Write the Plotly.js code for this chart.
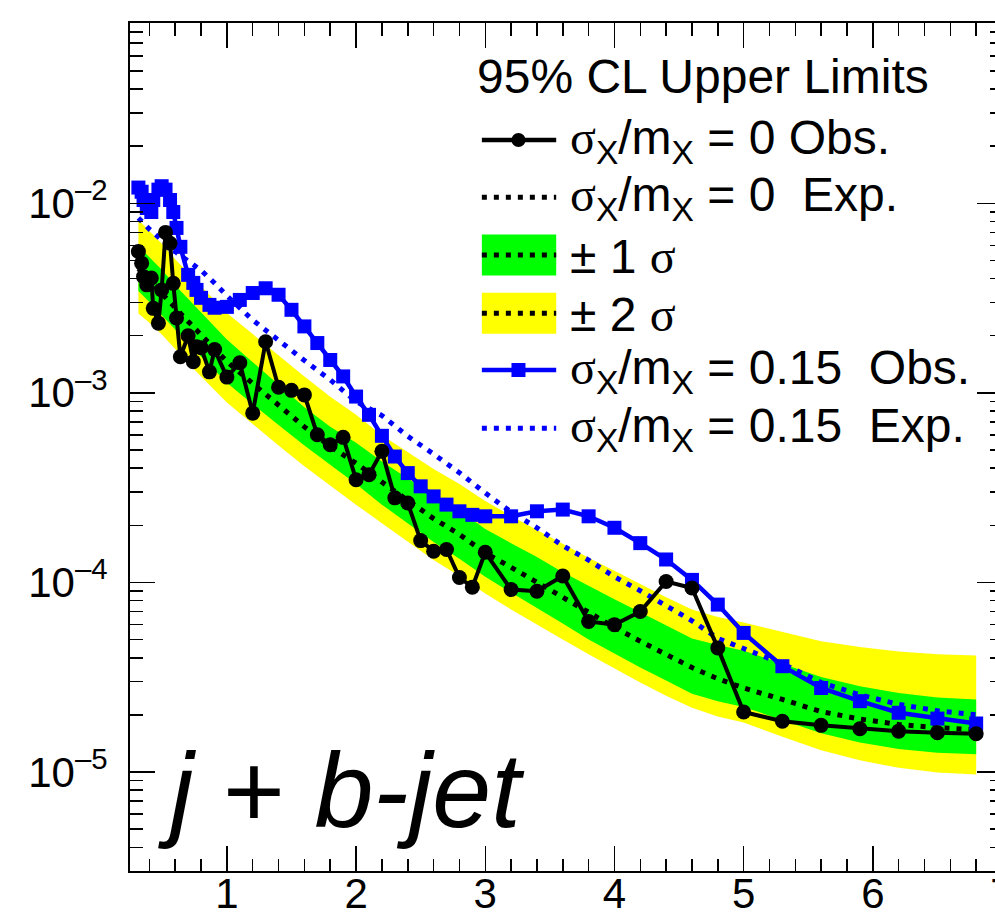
<!DOCTYPE html>
<html><head><meta charset="utf-8">
<script src="https://cdn.plot.ly/plotly-3.0.1.min.js"></script>
<style>html,body{margin:0;padding:0;overflow:hidden;background:#fff}</style>
</head><body><div id="chart" style="width:1020px;height:915px"></div>
<script>
// ---- data ----
const massObs = [0.315,0.34,0.355,0.38,0.415,0.43,0.47,0.495,0.525,0.56,0.585,0.61,0.64,0.70,0.74,0.765,0.80,0.865,0.905,1.0,
  1.1,1.2,1.3,1.4,1.5,1.6,1.7,1.8,1.9,2.0,2.1,2.2,2.3,2.4,2.5,2.6,2.7,2.8,2.9,3.0,
  3.2,3.4,3.6,3.8,4.0,4.2,4.4,4.6,4.8,5.0,
  5.3,5.6,5.9,6.2,6.5,6.8];
const obsWidth0 = [5.56e-3,4.83e-3,4.10e-3,3.71e-3,4.03e-3,2.79e-3,2.33e-3,3.49e-3,7.02e-3,6.15e-3,3.78e-3,2.48e-3,1.55e-3,2.00e-3,1.46e-3,1.75e-3,1.73e-3,1.29e-3,1.69e-3,1.21e-3,
  1.44e-3,7.81e-4,1.86e-3,1.07e-3,1.03e-3,9.75e-4,6.01e-4,5.32e-4,5.82e-4,3.48e-4,3.70e-4,4.91e-4,2.79e-4,2.62e-4,1.66e-4,1.46e-4,1.49e-4,1.06e-4,9.43e-5,1.44e-4,
  9.16e-5,8.97e-5,1.08e-4,6.22e-5,5.98e-5,7.01e-5,1.01e-4,9.33e-5,4.51e-5,2.07e-5,
  1.85e-5,1.76e-5,1.69e-5,1.64e-5,1.61e-5,1.59e-5];
const obsWidth015 = [1.21e-2,1.15e-2,1.04e-2,9.44e-3,8.99e-3,1.04e-2,1.18e-2,1.23e-2,1.18e-2,1.04e-2,8.99e-3,7.41e-3,5.89e-3,4.19e-3,3.80e-3,3.49e-3,3.17e-3,2.91e-3,2.81e-3,2.84e-3,
  3.09e-3,3.36e-3,3.56e-3,3.29e-3,2.74e-3,2.24e-3,1.83e-3,1.49e-3,1.22e-3,9.55e-4,7.65e-4,5.93e-4,4.61e-4,3.77e-4,3.21e-4,2.84e-4,2.57e-4,2.37e-4,2.27e-4,2.23e-4,
  2.23e-4,2.37e-4,2.42e-4,2.23e-4,1.94e-4,1.61e-4,1.32e-4,1.03e-4,7.63e-5,5.41e-5,
  3.61e-5,2.77e-5,2.36e-5,2.05e-5,1.91e-5,1.80e-5];

const massExp = [0.315,0.4,0.5,0.6,0.7,0.8,0.9,1.0,1.2,1.4,1.6,1.8,2.0,2.2,2.4,2.6,2.8,3.0,3.2,3.4,3.6,3.8,4.0,4.2,4.4,4.6,4.8,5.0,5.3,5.6,5.9,6.2,6.5,6.8];
const expWidth0 = [4.53e-3,3.95e-3,3.37e-3,2.81e-3,2.38e-3,2.02e-3,1.72e-3,1.46e-3,1.12e-3,8.59e-4,6.61e-4,5.21e-4,4.25e-4,3.38e-4,2.69e-4,2.17e-4,1.79e-4,1.43e-4,1.20e-4,1.00e-4,8.24e-5,6.87e-5,5.79e-5,4.89e-5,4.17e-5,3.55e-5,3.10e-5,2.77e-5,2.41e-5,2.08e-5,1.90e-5,1.78e-5,1.71e-5,1.67e-5];
const expUp2 = [8.18e-3,7.14e-3,6.08e-3,5.07e-3,4.30e-3,3.65e-3,3.11e-3,2.64e-3,2.04e-3,1.57e-3,1.22e-3,9.52e-4,7.67e-4,5.97e-4,4.86e-4,3.96e-4,3.30e-4,2.69e-4,2.24e-4,1.89e-4,1.59e-4,1.35e-4,1.15e-4,9.78e-5,8.34e-5,7.19e-5,6.57e-5,6.13e-5,5.47e-5,4.89e-5,4.56e-5,4.31e-5,4.17e-5,4.11e-5];
const expUp1 = [5.94e-3,5.19e-3,4.43e-3,3.69e-3,3.12e-3,2.65e-3,2.23e-3,1.91e-3,1.45e-3,1.10e-3,8.40e-4,6.61e-4,5.45e-4,4.34e-4,3.54e-4,2.88e-4,2.40e-4,1.91e-4,1.61e-4,1.36e-4,1.13e-4,9.55e-5,8.15e-5,6.95e-5,5.93e-5,5.06e-5,4.67e-5,4.36e-5,3.72e-5,3.17e-5,2.83e-5,2.61e-5,2.47e-5,2.41e-5];
const expDn1 = [3.44e-3,3.01e-3,2.56e-3,2.16e-3,1.82e-3,1.55e-3,1.32e-3,1.13e-3,8.69e-4,6.77e-4,5.27e-4,4.15e-4,3.30e-4,2.57e-4,2.05e-4,1.63e-4,1.33e-4,1.07e-4,8.83e-5,7.36e-5,6.07e-5,5.00e-5,4.21e-5,3.55e-5,3.03e-5,2.58e-5,2.36e-5,2.20e-5,1.88e-5,1.60e-5,1.43e-5,1.32e-5,1.26e-5,1.24e-5];
const expDn2 = [2.62e-3,2.34e-3,2.02e-3,1.70e-3,1.43e-3,1.22e-3,1.04e-3,8.89e-4,6.84e-4,5.27e-4,4.10e-4,3.23e-4,2.57e-4,2.05e-4,1.63e-4,1.31e-4,1.08e-4,8.72e-5,7.19e-5,6.00e-5,5.00e-5,4.17e-5,3.51e-5,2.96e-5,2.52e-5,2.18e-5,1.96e-5,1.82e-5,1.53e-5,1.30e-5,1.15e-5,1.05e-5,9.93e-6,9.68e-6];
const expWidth015 = [8.37e-3,7.30e-3,6.37e-3,5.56e-3,4.96e-3,4.43e-3,3.82e-3,3.25e-3,2.42e-3,1.88e-3,1.48e-3,1.17e-3,8.99e-4,7.59e-4,5.90e-4,4.75e-4,3.79e-4,2.96e-4,2.35e-4,1.94e-4,1.56e-4,1.31e-4,1.07e-4,9.03e-5,7.53e-5,6.27e-5,5.06e-5,4.46e-5,3.72e-5,2.96e-5,2.55e-5,2.27e-5,2.10e-5,2.00e-5];

const xTickVals = [1,2,3,4,5,6,7];
const yTickVals = [1e-5,1e-4,1e-3,1e-2];
const yTickText = ['10<sup>–5</sup>','10<sup>–4</sup>','10<sup>–3</sup>','10<sup>–2</sup>'];
const legendTitle = '95% CL Upper Limits';
const legendLabels = [
  'σ<sub>X</sub>/m<sub>X</sub> = 0 Obs.',
  'σ<sub>X</sub>/m<sub>X</sub> = 0&nbsp;&nbsp;Exp.',
  '± 1 σ',
  '± 2 σ',
  'σ<sub>X</sub>/m<sub>X</sub> = 0.15&nbsp;&nbsp;Obs.',
  'σ<sub>X</sub>/m<sub>X</sub> = 0.15&nbsp;&nbsp;Exp.'
];
const channelLabel = '<i>j</i> + <i>b-jet</i>';

// ---- styles ----
const YELLOW = '#ffff00', GREEN = '#00ff00', BLUE = '#0000ff', BLACK = '#000000';
const DOT = '5px,7px';
const SANS = 'Liberation Sans, Arial, Helvetica, sans-serif';
const SERIF = 'Liberation Serif, Times New Roman, serif';

function sigmaSpan(s){ return s.replace(/σ/g, '<span style="font-family:' + SERIF + '">σ</span>'); }

const rev = a => a.slice().reverse();
const traces = [
  {x: massExp.concat(rev(massExp)), y: expUp2.concat(rev(expDn2)), mode:'lines', fill:'toself', fillcolor:YELLOW, line:{width:0, color:YELLOW}, hoverinfo:'skip'},
  {x: massExp.concat(rev(massExp)), y: expUp1.concat(rev(expDn1)), mode:'lines', fill:'toself', fillcolor:GREEN, line:{width:0, color:GREEN}, hoverinfo:'skip'},
  {x: massExp, y: expWidth0, mode:'lines', line:{color:BLACK, width:5, dash:DOT}},
  {x: massExp, y: expWidth015, mode:'lines', line:{color:BLUE, width:5, dash:DOT}},
  {x: massObs, y: obsWidth015, mode:'lines+markers', line:{color:BLUE, width:4.5}, marker:{symbol:'square', size:14, color:BLUE, line:{width:0}}},
  {x: massObs, y: obsWidth0, mode:'lines+markers', line:{color:BLACK, width:4}, marker:{symbol:'circle', size:15, color:BLACK, line:{width:0}}}
];

// pixel helpers for legend placement (plot area: x 130..1001.6, y 23..871)
const L0 = 130, PW = 871.6, PH = 848;
const px = v => (v - L0) / PW;
const py = v => (871 - v) / PH;

const shapes = [];
const annotations = [];
const symX0 = 481.7, symX1 = 556, symXc = 518.3;
const rowY = [140, 197.3, 255, 313.3, 370, 428.3];
shapes.push({type:'line', xref:'paper', yref:'paper', x0:px(symX0), x1:px(symX1), y0:py(rowY[0]), y1:py(rowY[0]), line:{color:BLACK, width:4.5}});
shapes.push({type:'circle', xref:'paper', yref:'paper', x0:px(symXc-7), x1:px(symXc+7), y0:py(rowY[0]+7), y1:py(rowY[0]-7), fillcolor:BLACK, line:{width:0}});
shapes.push({type:'line', xref:'paper', yref:'paper', x0:px(symX0), x1:px(symX1), y0:py(rowY[1]), y1:py(rowY[1]), line:{color:BLACK, width:5, dash:DOT}});
shapes.push({type:'rect', xref:'paper', yref:'paper', x0:px(symX0), x1:px(symX1), y0:py(rowY[2]+20.5), y1:py(rowY[2]-20.5), fillcolor:GREEN, line:{width:0}});
shapes.push({type:'line', xref:'paper', yref:'paper', x0:px(symX0), x1:px(symX1), y0:py(rowY[2]), y1:py(rowY[2]), line:{color:BLACK, width:5, dash:DOT}});
shapes.push({type:'rect', xref:'paper', yref:'paper', x0:px(symX0), x1:px(symX1), y0:py(rowY[3]+20.5), y1:py(rowY[3]-20.5), fillcolor:YELLOW, line:{width:0}});
shapes.push({type:'line', xref:'paper', yref:'paper', x0:px(symX0), x1:px(symX1), y0:py(rowY[3]), y1:py(rowY[3]), line:{color:BLACK, width:5, dash:DOT}});
shapes.push({type:'line', xref:'paper', yref:'paper', x0:px(symX0), x1:px(symX1), y0:py(rowY[4]), y1:py(rowY[4]), line:{color:BLUE, width:4.5}});
shapes.push({type:'rect', xref:'paper', yref:'paper', x0:px(symXc-7), x1:px(symXc+7), y0:py(rowY[4]+7), y1:py(rowY[4]-7), fillcolor:BLUE, line:{width:0}});
shapes.push({type:'line', xref:'paper', yref:'paper', x0:px(symX0), x1:px(symX1), y0:py(rowY[5]), y1:py(rowY[5]), line:{color:BLUE, width:5, dash:DOT}});

annotations.push({xref:'paper', yref:'paper', x:px(475), y:py(77), xanchor:'left', yanchor:'middle', text:legendTitle, showarrow:false, font:{family:SANS, size:48, color:BLACK}});
legendLabels.forEach((t, i) => {
  annotations.push({xref:'paper', yref:'paper', x:px(568), y:py(rowY[i]+1), xanchor:'left', yanchor:'middle', text:sigmaSpan(t), showarrow:false, font:{family:SANS, size:48, color:BLACK}});
});
annotations.push({xref:'paper', yref:'paper', x:px(156), y:py(790), xanchor:'left', yanchor:'middle', text:channelLabel, showarrow:false, font:{family:SANS, size:106, color:BLACK}});

const axisCommon = {showgrid:false, zeroline:false, showline:true, linecolor:BLACK, linewidth:2, mirror:'allticks', ticks:'inside', ticklen:25, tickwidth:1.5, tickcolor:BLACK, tickfont:{family:SANS, size:42, color:BLACK}, automargin:false};

const layout = {
  width:1020, height:915,
  margin:{l:130, r:18.4, t:23, b:44, pad:0},
  paper_bgcolor:'#ffffff', plot_bgcolor:'#ffffff',
  showlegend:false,
  xaxis: Object.assign({}, axisCommon, {type:'linear', range:[0.25, 7], tickmode:'array', tickvals:xTickVals, ticktext:xTickVals.map(String), ticklabelstandoff:-15, ticklabeloverflow:'allow',
    minor:{ticks:'inside', ticklen:12.5, tickwidth:1.5, tickcolor:BLACK, dtick:0.2, tick0:0, showgrid:false}}),
  yaxis: Object.assign({}, axisCommon, {type:'log', range:[-5.523, -1.049], tickmode:'array', tickvals:yTickVals, ticktext:yTickText, ticklabelstandoff:12,
    tickfont:{family:SANS, size:42, color:BLACK},
    minor:{ticks:'inside', ticklen:12.5, tickwidth:1.5, tickcolor:BLACK, dtick:'D1', showgrid:false}}),
  shapes: shapes,
  annotations: annotations
};

Plotly.newPlot('chart', traces, layout, {displayModeBar:false, staticPlot:true});
</script>
</body></html>
